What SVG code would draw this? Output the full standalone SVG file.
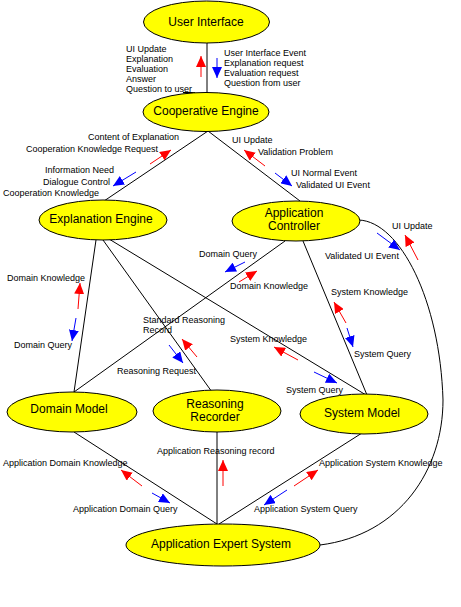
<svg xmlns="http://www.w3.org/2000/svg" width="461" height="607" viewBox="0 0 461 607">
<defs>
<style>
.node ellipse{fill:#ffff00;stroke:#000;stroke-width:1}
.node text{font-family:"Liberation Sans",Arial,sans-serif;font-size:12px;fill:#000;text-anchor:middle}
.conn{stroke:#000;stroke-width:1;fill:none}
.red{stroke:#ff0000;stroke-width:1;fill:none;marker-end:url(#hr)}
.blue{stroke:#0000ff;stroke-width:1;fill:none;marker-end:url(#hb)}
.lbl{font-family:"Liberation Sans",Arial,sans-serif;font-size:9px;fill:#000}
</style>
<marker id="hr" markerUnits="userSpaceOnUse" markerWidth="11" markerHeight="10" refX="11" refY="5" orient="auto"><path d="M0,0 L11,5 L0,10 z" fill="#ff0000"/></marker>
<marker id="hb" markerUnits="userSpaceOnUse" markerWidth="11" markerHeight="10" refX="11" refY="5" orient="auto"><path d="M0,0 L11,5 L0,10 z" fill="#0000ff"/></marker>
</defs>
<rect width="461" height="607" fill="#fff"/>
<g id="connectors">
<line class="conn" x1="207" y1="43" x2="207" y2="93"/>
<line class="conn" x1="208" y1="131" x2="104" y2="201"/>
<line class="conn" x1="208" y1="131" x2="300" y2="201"/>
<path class="conn" d="M359,220 C400,222 440,300 443,400 C443,470 400,535 320,545"/>
<line class="conn" x1="96" y1="240" x2="74" y2="392"/>
<line class="conn" x1="103" y1="240" x2="212" y2="392"/>
<line class="conn" x1="109" y1="239" x2="366" y2="395"/>
<line class="conn" x1="285" y1="241" x2="74" y2="392"/>
<line class="conn" x1="303" y1="241" x2="367" y2="395"/>
<line class="conn" x1="74" y1="432" x2="217" y2="524"/>
<line class="conn" x1="217" y1="432" x2="217" y2="524"/>
<line class="conn" x1="362" y1="433" x2="219" y2="524"/>
<line class="conn" x1="183" y1="92.5" x2="195" y2="92.5"/>
</g>
<g id="flows">
<line class="red" x1="201" y1="77" x2="201" y2="56"/>
<line class="blue" x1="217" y1="58" x2="217" y2="78"/>
<line class="red" x1="150" y1="164" x2="171" y2="150"/>
<line class="blue" x1="136" y1="172" x2="113" y2="186"/>
<line class="red" x1="265" y1="166" x2="244" y2="150"/>
<line class="blue" x1="275" y1="173" x2="292" y2="186"/>
<line class="blue" x1="377" y1="233" x2="400" y2="250"/>
<line class="red" x1="418" y1="260" x2="405" y2="235"/>
<line class="blue" x1="245" y1="262" x2="225" y2="272"/>
<line class="red" x1="239" y1="282" x2="257" y2="271"/>
<line class="red" x1="78" y1="309" x2="80" y2="283"/>
<line class="blue" x1="76" y1="318" x2="72" y2="341"/>
<line class="red" x1="346" y1="323" x2="334" y2="302"/>
<line class="blue" x1="347" y1="328" x2="353" y2="347"/>
<line class="red" x1="197" y1="357" x2="182" y2="339"/>
<line class="blue" x1="169" y1="345" x2="183" y2="363"/>
<line class="red" x1="298" y1="360" x2="274" y2="347"/>
<line class="blue" x1="314" y1="372" x2="337" y2="383"/>
<line class="red" x1="142" y1="486" x2="121" y2="470"/>
<line class="blue" x1="152" y1="493" x2="170" y2="503"/>
<line class="red" x1="223" y1="486" x2="223" y2="460"/>
<line class="red" x1="294" y1="486" x2="318" y2="470"/>
<line class="blue" x1="287" y1="490" x2="264" y2="505"/>
</g>
<g id="node-user-interface" class="node"><ellipse cx="206.5" cy="22" rx="63" ry="21"/><text x="206" y="26">User Interface</text></g>
<g id="node-cooperative-engine" class="node"><ellipse cx="206" cy="112" rx="63" ry="19.5"/><text x="206" y="115">Cooperative Engine</text></g>
<g id="node-explanation-engine" class="node"><ellipse cx="103" cy="220" rx="64" ry="20"/><text x="101" y="223">Explanation Engine</text></g>
<g id="node-application-controller" class="node"><ellipse cx="296" cy="221" rx="64" ry="20"/><text x="294" y="217">Application</text><text x="294" y="230">Controller</text></g>
<g id="node-domain-model" class="node"><ellipse cx="72" cy="412" rx="65" ry="20"/><text x="69" y="413">Domain Model</text></g>
<g id="node-reasoning-recorder" class="node"><ellipse cx="217" cy="411" rx="64" ry="21"/><text x="215" y="408">Reasoning</text><text x="215" y="421">Recorder</text></g>
<g id="node-system-model" class="node"><ellipse cx="364" cy="414" rx="64" ry="20"/><text x="362" y="417">System Model</text></g>
<g id="node-application-expert-system" class="node"><ellipse cx="223" cy="545" rx="97" ry="21"/><text x="221" y="548">Application Expert System</text></g>
<g id="labels" class="lbl">
<text class="lbl" x="126" y="52">UI Update</text>
<text class="lbl" x="126" y="62">Explanation</text>
<text class="lbl" x="126" y="72">Evaluation</text>
<text class="lbl" x="126" y="82">Answer</text>
<text class="lbl" x="126" y="92">Question to user</text>
<text class="lbl" x="224" y="56">User Interface Event</text>
<text class="lbl" x="224" y="66">Explanation request</text>
<text class="lbl" x="224" y="76">Evaluation request</text>
<text class="lbl" x="224" y="86">Question from user</text>
<text class="lbl" x="88" y="140">Content of Explanation</text>
<text class="lbl" x="26" y="152">Cooperation Knowledge Request</text>
<text class="lbl" x="45" y="173">Information Need</text>
<text class="lbl" x="43" y="185">Dialogue Control</text>
<text class="lbl" x="3" y="196">Cooperation Knowledge</text>
<text class="lbl" x="232" y="143">UI Update</text>
<text class="lbl" x="258" y="155">Validation Problem</text>
<text class="lbl" x="291" y="176">UI Normal Event</text>
<text class="lbl" x="296" y="188">Validated UI Event</text>
<text class="lbl" x="392" y="229">UI Update</text>
<text class="lbl" x="325" y="259">Validated UI Event</text>
<text class="lbl" x="199" y="257">Domain Query</text>
<text class="lbl" x="7" y="281">Domain Knowledge</text>
<text class="lbl" x="230" y="289">Domain Knowledge</text>
<text class="lbl" x="331" y="295">System Knowledge</text>
<text class="lbl" x="143" y="323">Standard Reasoning</text>
<text class="lbl" x="143" y="333">Record</text>
<text class="lbl" x="230" y="342">System Knowledge</text>
<text class="lbl" x="14" y="348">Domain Query</text>
<text class="lbl" x="354" y="357">System Query</text>
<text class="lbl" x="117" y="374">Reasoning Request</text>
<text class="lbl" x="286" y="393">System Query</text>
<text class="lbl" x="157" y="454">Application Reasoning record</text>
<text class="lbl" x="3" y="466">Application Domain Knowledge</text>
<text class="lbl" x="319" y="466">Application System Knowledge</text>
<text class="lbl" x="73" y="512">Application Domain Query</text>
<text class="lbl" x="254" y="512">Application System Query</text>
</g>
</svg>
